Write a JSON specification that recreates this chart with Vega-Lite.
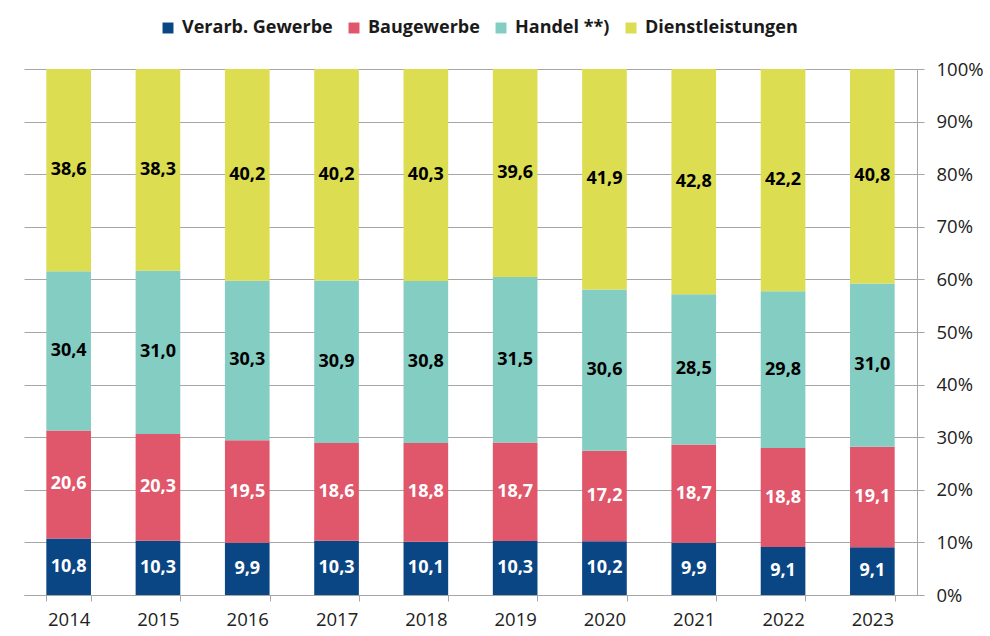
{
  "$schema": "https://vega.github.io/schema/vega-lite/v6.json",
  "width": 893,
  "height": 526,
  "autosize": {"type": "none"},
  "padding": {"left": 24, "top": 69, "right": 73, "bottom": 41},
  "background": "white",
  "config": {
    "font": "Open Sans",
    "view": {"stroke": null},
    "locale": {"number": {"decimal": ",", "thousands": ".", "grouping": [3], "currency": ["", " €"]}}
  },
  "data": {
    "values": [
      {"year": "2014", "sector": "Verarb. Gewerbe", "order": 1, "value": 10.8},
      {"year": "2014", "sector": "Baugewerbe", "order": 2, "value": 20.6},
      {"year": "2014", "sector": "Handel **)", "order": 3, "value": 30.4},
      {"year": "2014", "sector": "Dienstleistungen", "order": 4, "value": 38.6},
      {"year": "2015", "sector": "Verarb. Gewerbe", "order": 1, "value": 10.3},
      {"year": "2015", "sector": "Baugewerbe", "order": 2, "value": 20.3},
      {"year": "2015", "sector": "Handel **)", "order": 3, "value": 31.0},
      {"year": "2015", "sector": "Dienstleistungen", "order": 4, "value": 38.3},
      {"year": "2016", "sector": "Verarb. Gewerbe", "order": 1, "value": 9.9},
      {"year": "2016", "sector": "Baugewerbe", "order": 2, "value": 19.5},
      {"year": "2016", "sector": "Handel **)", "order": 3, "value": 30.3},
      {"year": "2016", "sector": "Dienstleistungen", "order": 4, "value": 40.2},
      {"year": "2017", "sector": "Verarb. Gewerbe", "order": 1, "value": 10.3},
      {"year": "2017", "sector": "Baugewerbe", "order": 2, "value": 18.6},
      {"year": "2017", "sector": "Handel **)", "order": 3, "value": 30.9},
      {"year": "2017", "sector": "Dienstleistungen", "order": 4, "value": 40.2},
      {"year": "2018", "sector": "Verarb. Gewerbe", "order": 1, "value": 10.1},
      {"year": "2018", "sector": "Baugewerbe", "order": 2, "value": 18.8},
      {"year": "2018", "sector": "Handel **)", "order": 3, "value": 30.8},
      {"year": "2018", "sector": "Dienstleistungen", "order": 4, "value": 40.3},
      {"year": "2019", "sector": "Verarb. Gewerbe", "order": 1, "value": 10.3},
      {"year": "2019", "sector": "Baugewerbe", "order": 2, "value": 18.7},
      {"year": "2019", "sector": "Handel **)", "order": 3, "value": 31.5},
      {"year": "2019", "sector": "Dienstleistungen", "order": 4, "value": 39.6},
      {"year": "2020", "sector": "Verarb. Gewerbe", "order": 1, "value": 10.2},
      {"year": "2020", "sector": "Baugewerbe", "order": 2, "value": 17.2},
      {"year": "2020", "sector": "Handel **)", "order": 3, "value": 30.6},
      {"year": "2020", "sector": "Dienstleistungen", "order": 4, "value": 41.9},
      {"year": "2021", "sector": "Verarb. Gewerbe", "order": 1, "value": 9.9},
      {"year": "2021", "sector": "Baugewerbe", "order": 2, "value": 18.7},
      {"year": "2021", "sector": "Handel **)", "order": 3, "value": 28.5},
      {"year": "2021", "sector": "Dienstleistungen", "order": 4, "value": 42.8},
      {"year": "2022", "sector": "Verarb. Gewerbe", "order": 1, "value": 9.1},
      {"year": "2022", "sector": "Baugewerbe", "order": 2, "value": 18.8},
      {"year": "2022", "sector": "Handel **)", "order": 3, "value": 29.8},
      {"year": "2022", "sector": "Dienstleistungen", "order": 4, "value": 42.2},
      {"year": "2023", "sector": "Verarb. Gewerbe", "order": 1, "value": 9.1},
      {"year": "2023", "sector": "Baugewerbe", "order": 2, "value": 19.1},
      {"year": "2023", "sector": "Handel **)", "order": 3, "value": 31.0},
      {"year": "2023", "sector": "Dienstleistungen", "order": 4, "value": 40.8}
    ]
  },
  "transform": [
    {"stack": "value", "groupby": ["year"], "sort": [{"field": "order", "order": "ascending"}], "offset": "normalize", "as": ["y0", "y1"]},
    {"calculate": "(datum.y0 + datum.y1) / 2", "as": "ymid"}
  ],
  "encoding": {
    "x": {
      "field": "year", "type": "ordinal", "title": null,
      "scale": {"paddingInner": 0.5, "paddingOuter": 0.25},
      "axis": {
        "labelAngle": 0, "labelFontSize": 18.5, "labelColor": "#222222", "labelPadding": 9,
        "domainColor": "#a6a6a6", "tickColor": "#a6a6a6", "tickSize": 6, "tickBand": "extent",
        "grid": false
      }
    }
  },
  "layer": [
    {
      "mark": {"type": "bar"},
      "encoding": {
        "y": {
          "field": "y0", "type": "quantitative", "title": null,
          "scale": {"domain": [0, 1], "nice": false},
          "axis": {
            "orient": "right", "format": ".0%", "values": [0, 0.1, 0.2, 0.3, 0.4, 0.5, 0.6, 0.7, 0.8, 0.9, 1],
            "labelFontSize": 18.5, "labelColor": "#222222", "labelPadding": 12,
            "domainColor": "#a6a6a6", "tickColor": "#a6a6a6", "tickSize": 7,
            "grid": true, "gridColor": "#a6a6a6", "gridWidth": 1
          }
        },
        "y2": {"field": "y1"},
        "color": {
          "field": "sector", "type": "nominal",
          "scale": {
            "domain": ["Verarb. Gewerbe", "Baugewerbe", "Handel **)", "Dienstleistungen"],
            "range": ["#0a4684", "#e0566a", "#84cdc3", "#dcdd50"]
          },
          "legend": {
            "title": null, "orient": "none", "direction": "horizontal", "columns": 4,
            "legendX": 135, "legendY": -50,
            "symbolType": "square", "symbolSize": 120, "symbolStrokeWidth": 0,
            "labelFontSize": 18, "labelFontWeight": "bold", "labelColor": "#1a1a1a",
            "columnPadding": 12, "labelOffset": 5
          }
        }
      }
    },
    {
      "mark": {"type": "text", "fontSize": 18, "fontWeight": "bold", "baseline": "middle", "align": "center"},
      "encoding": {
        "y": {"field": "ymid", "type": "quantitative", "scale": {"domain": [0, 1], "nice": false}},
        "text": {"field": "value", "type": "quantitative", "format": ".1f"},
        "color": {
          "condition": {"test": "datum.order <= 2", "value": "white"},
          "value": "black"
        }
      }
    }
  ]
}
